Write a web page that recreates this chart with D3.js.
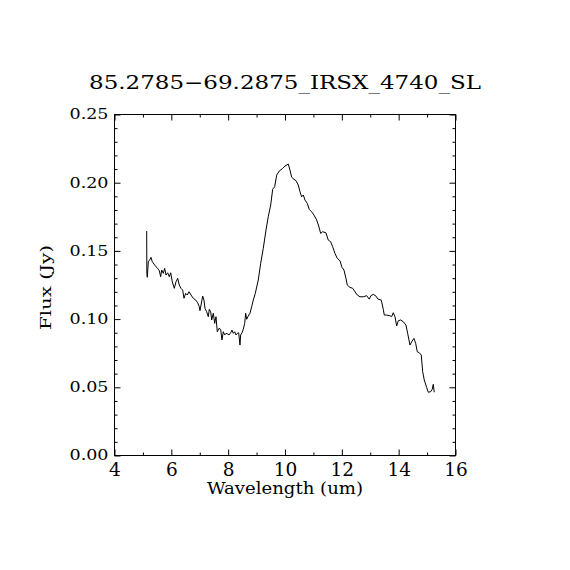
<!DOCTYPE html>
<html>
<head>
<meta charset="utf-8">
<script src="https://cdn.jsdelivr.net/npm/d3@7"></script>
<style>
  html, body { margin: 0; padding: 0; background: #fff; }
  svg { display: block; }
  svg text { font-family: "DejaVu Serif", serif !important; fill: #000; }
</style>
</head>
<body>
<svg id="chart" width="570" height="570"></svg>
<script>
const titleText = "85.2785\u221269.2875_IRSX_4740_SL";
const xLabel = "Wavelength (um)";
const yLabel = "Flux (Jy)";
const xMajorTicks = [4, 6, 8, 10, 12, 14, 16];
const xMinorTicks = [5, 7, 9, 11, 13, 15];
const yMajorTicks = [0, 0.05, 0.10, 0.15, 0.20, 0.25];
const yMinorTicks = [0.01,0.02,0.03,0.04,0.06,0.07,0.08,0.09,0.11,0.12,0.13,0.14,0.16,0.17,0.18,0.19,0.21,0.22,0.23,0.24];

const wavelength = [
  5.150,5.156,5.172,5.207,5.267,5.302,5.348,5.407,5.478,5.538,5.594,5.643,5.678,5.735,5.784,5.830,5.889,5.946,5.995,
  6.051,6.122,6.182,6.241,6.298,6.357,6.417,6.463,6.523,6.579,6.639,6.709,6.790,6.875,6.945,7.001,
  7.026,7.121,7.167,7.202,7.262,7.318,7.353,7.402,7.438,7.494,7.543,7.589,7.635,7.695,7.754,7.800,7.846,7.895,7.941,
  8.001,8.046,8.106,8.152,8.198,8.247,8.293,8.338,8.388,8.433,8.458,8.504,8.550,8.599,8.634,8.669,8.725,8.785,8.845,8.901,8.972,
  9.077,9.162,9.253,9.348,9.429,9.514,9.584,9.654,9.725,9.816,9.936,
  10.017,10.133,10.193,10.253,10.333,10.404,10.485,10.545,10.604,10.661,10.721,10.801,10.872,10.956,
  11.037,11.132,11.203,11.273,11.343,11.459,11.540,11.625,11.695,11.776,11.857,11.952,
  12.022,12.093,12.163,12.209,12.304,12.399,12.480,12.561,12.656,12.772,12.892,12.983,
  13.043,13.124,13.219,13.289,13.405,13.476,13.511,13.595,13.711,13.771,13.827,13.887,13.947,
  14.003,14.088,14.179,14.274,14.334,14.415,14.475,14.556,14.616,14.672,14.742,14.813,14.862,14.918,
  15.002,15.059,15.143,15.199,15.235,15.270
];
const flux = [
  0.1642,0.1332,0.1303,0.1417,0.1434,0.1449,0.1417,0.1400,0.1380,0.1368,0.1351,0.1307,0.1356,0.1332,0.1368,0.1319,0.1336,0.1307,0.1336,
  0.1270,0.1222,0.1270,0.1295,0.1246,0.1222,0.1209,0.1149,0.1185,0.1173,0.1197,0.1173,0.1149,0.1136,0.1116,0.1087,
  0.1058,0.1165,0.1136,0.1075,0.1050,0.1014,0.1068,0.1050,0.0990,0.1039,0.0965,0.1014,0.0904,0.0929,0.0921,0.0843,0.0904,0.0880,0.0892,
  0.0887,0.0880,0.0896,0.0916,0.0892,0.0904,0.0880,0.0892,0.0896,0.0806,0.0880,0.0896,0.0921,0.0965,0.1039,0.0995,0.1019,0.1039,0.1087,0.1136,0.1185,
  0.1283,0.1405,0.1515,0.1649,0.1747,0.1833,0.1948,0.1967,0.2052,0.2082,0.2101,
  0.2118,0.2133,0.2089,0.2036,0.2021,0.2011,0.1979,0.1930,0.1893,0.1906,0.1869,0.1845,0.1801,0.1783,
  0.1759,0.1723,0.1679,0.1625,0.1637,0.1629,0.1576,0.1563,0.1527,0.1478,0.1442,0.1424,
  0.1376,0.1356,0.1295,0.1246,0.1229,0.1222,0.1197,0.1173,0.1160,0.1160,0.1168,0.1143,
  0.1168,0.1178,0.1165,0.1143,0.1136,0.1068,0.1026,0.1026,0.1021,0.1014,0.1043,0.1014,0.0946,
  0.0984,0.0990,0.0977,0.0953,0.0892,0.0806,0.0830,0.0855,0.0819,0.0757,0.0750,0.0733,0.0611,0.0550,
  0.0496,0.0460,0.0464,0.0482,0.0518,0.0460
];

const svg = d3.select("#chart");
const mLeft = 114, mRight = 455, mTop = 114, mBottom = 455;
const serif = '"DejaVu Serif", serif';

const x = d3.scaleLinear().domain([4, 16]).range([mLeft, mRight]);
const y = d3.scaleLinear().domain([0, 0.25]).range([mBottom, mTop]);

// frame
svg.append("rect")
  .attr("x", mLeft + 0.5).attr("y", mTop + 0.5)
  .attr("width", mRight - mLeft).attr("height", mBottom - mTop)
  .attr("fill", "none").attr("stroke", "#000").attr("stroke-width", 1);

function styleAxis(g) {
  g.attr("font-family", null).attr("font-size", null);
  g.select(".domain").remove();
  g.selectAll(".tick line").attr("stroke", "#000").attr("stroke-width", 1);
}

// bottom axis
svg.append("g").attr("transform", `translate(0.5,${mBottom + 0.5})`)
  .call(d3.axisBottom(x).tickValues(xMajorTicks).tickSize(-6).tickPadding(7).tickFormat(d3.format("d")))
  .call(styleAxis)
  .call(g => g.selectAll("text").style("font-family", serif).style("font-size", "18.5px").attr("fill", "#000"));
svg.append("g").attr("transform", `translate(0.5,${mBottom + 0.5})`)
  .call(d3.axisBottom(x).tickValues(xMinorTicks).tickSize(-3).tickFormat(""))
  .call(styleAxis);

// top axis
svg.append("g").attr("transform", `translate(0.5,${mTop + 0.5})`)
  .call(d3.axisTop(x).tickValues(xMajorTicks).tickSize(-6).tickFormat(""))
  .call(styleAxis);
svg.append("g").attr("transform", `translate(0.5,${mTop + 0.5})`)
  .call(d3.axisTop(x).tickValues(xMinorTicks).tickSize(-3).tickFormat(""))
  .call(styleAxis);

// left axis
svg.append("g").attr("transform", `translate(${mLeft + 0.5},0.5)`)
  .call(d3.axisLeft(y).tickValues(yMajorTicks).tickSize(-6).tickPadding(6).tickFormat(d3.format(".2f")))
  .call(styleAxis)
  .call(g => g.selectAll("text").style("font-family", serif).style("font-size", "14px").attr("fill", "#000")
    .attr("textLength", 39).attr("lengthAdjust", "spacingAndGlyphs"));
svg.append("g").attr("transform", `translate(${mLeft + 0.5},0.5)`)
  .call(d3.axisLeft(y).tickValues(yMinorTicks).tickSize(-3).tickFormat(""))
  .call(styleAxis);

// right axis
svg.append("g").attr("transform", `translate(${mRight + 0.5},0.5)`)
  .call(d3.axisRight(y).tickValues(yMajorTicks).tickSize(-6).tickFormat(""))
  .call(styleAxis);
svg.append("g").attr("transform", `translate(${mRight + 0.5},0.5)`)
  .call(d3.axisRight(y).tickValues(yMinorTicks).tickSize(-3).tickFormat(""))
  .call(styleAxis);

// data line
const pts = wavelength.map((w, i) => [w, flux[i]]);
svg.append("path")
  .datum(pts)
  .attr("fill", "none")
  .attr("stroke", "#000")
  .attr("stroke-width", 1)
  .attr("stroke-linejoin", "miter")
  .attr("d", d3.line().x(d => x(d[0])).y(d => y(d[1])));

// title
svg.append("text")
  .attr("x", (mLeft + mRight) / 2 + 0.5).attr("y", 88.5)
  .attr("text-anchor", "middle")
  .style("font-size", "19px")
  .attr("textLength", 392).attr("lengthAdjust", "spacingAndGlyphs")
  .text(titleText);

// x label
svg.append("text")
  .attr("x", (mLeft + mRight) / 2 + 0.5).attr("y", 494)
  .attr("text-anchor", "middle")
  .style("font-size", "17px")
  .attr("textLength", 156).attr("lengthAdjust", "spacingAndGlyphs")
  .text(xLabel);

// y label
svg.append("text")
  .attr("transform", `translate(51,${(mTop + mBottom) / 2 + 3}) rotate(-90)`)
  .attr("text-anchor", "middle")
  .style("font-size", "15px")
  .attr("textLength", 85).attr("lengthAdjust", "spacingAndGlyphs")
  .text(yLabel);
</script>
</body>
</html>
